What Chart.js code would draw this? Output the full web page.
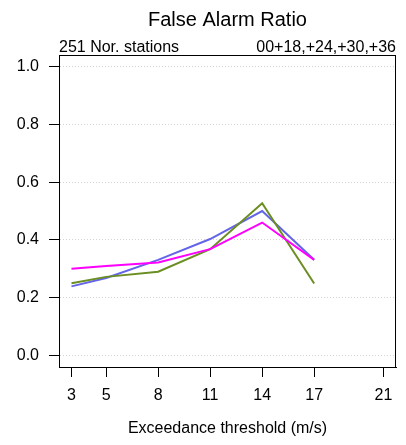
<!DOCTYPE html>
<html>
<head>
<meta charset="utf-8">
<script src="https://cdn.jsdelivr.net/npm/chart.js@4/dist/chart.umd.min.js"></script>
<style>
  html, body { margin: 0; padding: 0; background: #fff; }
  canvas { display: block; }
</style>
</head>
<body>
<canvas id="chart" width="406" height="445"></canvas>
<script>
// values
const thresholds = [3, 5, 8, 11, 14, 17];
const greenSeries = [0.250, 0.272, 0.290, 0.368, 0.527, 0.249];
const blueSeries = [0.239, 0.268, 0.331, 0.403, 0.500, 0.331];
const magentaSeries = [0.300, 0.310, 0.322, 0.368, 0.460, 0.331];
const xTicks = [3, 5, 8, 11, 14, 17, 21];
const yTicks = [0, 0.2, 0.4, 0.6, 0.8, 1.0];

const FONT = "'Liberation Sans', Arial, Helvetica, sans-serif";

const toPoints = (vals) => vals.map((v, i) => ({ x: thresholds[i], y: v }));

// title, subtitle and the box around the plot
const frame = {
    id: 'frame',
    afterDraw(chart) {
        const { ctx, chartArea: a } = chart;
        ctx.save();
        ctx.strokeStyle = '#000';
        ctx.lineWidth = 1;
        ctx.strokeRect(a.left + 0.5, a.top + 0.5, a.right - a.left - 1, a.bottom - a.top);
        ctx.fillStyle = '#000';
        ctx.textBaseline = 'alphabetic';
        ctx.font = '20px ' + FONT;
        ctx.textAlign = 'center';
        ctx.fillText('False Alarm Ratio', (a.left + a.right) / 2, 26);
        ctx.font = '16px ' + FONT;
        ctx.textAlign = 'left';
        ctx.fillText('251 Nor. stations', a.left, 52);
        ctx.textAlign = 'right';
        ctx.fillText('00+18,+24,+30,+36', a.right, 52);
        ctx.restore();
    }
};

const line = (vals, color) => ({
    data: toPoints(vals),
    borderColor: color,
    borderWidth: 2,
    pointRadius: 0,
    tension: 0,
    fill: false
});

new Chart(document.getElementById('chart').getContext('2d'), {
    type: 'line',
    data: {
        datasets: [
            line(magentaSeries, '#ff00ff'),
            line(greenSeries, '#6b8e23'),
            line(blueSeries, '#6464e8')
        ]
    },
    options: {
        responsive: false,
        animation: false,
        devicePixelRatio: 1,
        layout: { padding: { top: 55, right: 10, left: 0, bottom: 0 } },
        plugins: { legend: { display: false }, tooltip: { enabled: false }, title: { display: false } },
        scales: {
            x: {
                type: 'linear',
                min: 2.28,
                max: 21.72,
                afterBuildTicks: (s) => { s.ticks = xTicks.map(v => ({ value: v })); },
                afterFit: (s) => { s.height = 78; },
                grid: { drawOnChartArea: false, tickLength: 10, tickColor: '#000' },
                border: { display: true, color: '#000' },
                ticks: { color: '#000', font: { family: FONT, size: 16 }, padding: 9, maxRotation: 0 },
                title: {
                    display: true,
                    text: 'Exceedance threshold (m/s)',
                    color: '#000',
                    font: { family: FONT, size: 16 },
                    padding: { top: 0, bottom: 7 }
                }
            },
            y: {
                min: -0.04,
                max: 1.04,
                afterBuildTicks: (s) => { s.ticks = yTicks.map(v => ({ value: v })); },
                afterFit: (s) => { s.width = 59; },
                grid: { color: '#d3d3d3', tickLength: 10, tickColor: '#000', tickBorderDash: [] },
                border: { display: true, color: '#000', dash: [1, 2] },
                ticks: {
                    color: '#000',
                    font: { family: FONT, size: 16 },
                    padding: 10,
                    callback: (v) => v.toFixed(1)
                }
            }
        }
    },
    plugins: [frame]
});
</script>
</body>
</html>
